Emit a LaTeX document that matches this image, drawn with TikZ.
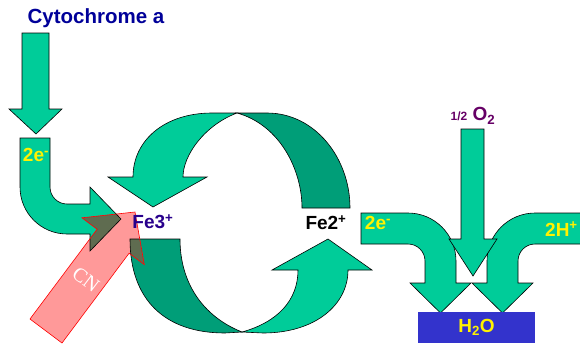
\documentclass[tikz,border=0pt]{standalone}
\usepackage{fontspec}
\setmainfont{Liberation Serif}
\setsansfont{Liberation Sans}
\usepackage{tikz}

\definecolor{cyto}{RGB}{0,204,153}
\definecolor{cytodark}{RGB}{0,158,120}
\definecolor{cnpink}{RGB}{255,153,153}
\definecolor{cnover}{RGB}{95,108,80}
\definecolor{titleblue}{RGB}{0,0,153}
\definecolor{fepurple}{RGB}{40,0,140}
\definecolor{oxpurple}{RGB}{102,0,102}
\definecolor{waterblue}{RGB}{51,51,204}

% outlines that are used twice (once plain, once for the CN overlap)
\newcommand{\leftbend}{(20,138) -- (50,138) -- (50,187) .. controls (50,196.4) and (57.6,204) .. (67,204)
  -- (90,204) -- (90,187) -- (121,219) -- (90,251) -- (90,234) -- (67,234)
  .. controls (41,234) and (20,213) .. (20,187) -- cycle}
\newcommand{\lowback}{(130,239) -- (180,239) .. controls (180,282) and (202,316) .. (242,332)
  -- (225,333) .. controls (165,333) and (130,300) .. (130,239) -- cycle}
\newcommand{\cnarrow}{(30,319) -- (97.1,229.2) -- (81.9,217.8) -- (135,212)
  -- (144.3,264.6) -- (129.1,253.2) -- (62,343) -- cycle}

\tikzset{
  blockarrow/.style={fill=cyto, draw=black, line width=0.6pt},
  backarrow/.style={fill=cytodark, draw=black, line width=0.6pt},
  lbl/.style={font=\sffamily\bfseries\fontsize{19}{22}\selectfont, inner sep=0pt},
}

\begin{document}
\begin{tikzpicture}[x=1pt, y=-1pt]
\useasboundingbox (0,0) rectangle (580,343);

% electrons coming in from cytochrome a
\node[lbl, text=titleblue, font=\sffamily\bfseries\fontsize{20.5}{24}\selectfont] (cyta) at (96,18) {Cytochrome a};
\path[blockarrow] (22,33) -- (49,33) -- (49,109) -- (62,109) -- (36,134) -- (9,109) -- (22,109) -- cycle;
\path[blockarrow] \leftbend;

% the Fe3+/Fe2+ cycle
\path[backarrow] (237,113) -- (267,113) .. controls (315,113) and (350,158) .. (350,208)
  -- (302,208) .. controls (302,170) and (280,125) .. (237,113) -- cycle;
\path[blockarrow] (108,177) -- (153,207) -- (207,177) -- (183,177)
  .. controls (183,155) and (205,125) .. (237,113) -- (212,113)
  .. controls (165,113) and (133,140) .. (133,177) -- cycle;
\path[backarrow] \lowback;
\path[blockarrow] (242,332) -- (263,333) .. controls (315,333) and (348,305) .. (348,270)
  -- (372,270) -- (328,239) -- (272,270) -- (298,270)
  .. controls (298,300) and (278,322) .. (242,332) -- cycle;

% water formation
\path[blockarrow] (361,213) -- (408,213) .. controls (434.5,213) and (456,234.5) .. (456,261)
  -- (456,283) -- (471,283) -- (440.5,313) -- (410,283) -- (425,283) -- (425,261)
  .. controls (425,251.6) and (417.4,244) .. (408,244) -- (361,244) -- cycle;
\path[blockarrow] (600,213) -- (535,213) .. controls (508.5,213) and (487,234.5) .. (487,261)
  -- (487,283) -- (472,283) -- (502.5,313) -- (533,283) -- (518,283) -- (518,261)
  .. controls (518,251.6) and (525.6,244) .. (535,244) -- (600,244) -- cycle;
\path[blockarrow] (461,129) -- (484,129) -- (484,239) -- (497,239) -- (473,276) -- (449,239) -- (461,239) -- cycle;
\node[fill=waterblue, minimum width=117pt, minimum height=31pt, inner sep=0pt] (water) at (476.5,327.5) {};

% cyanide blocking
\fill[cnpink] \cnarrow;
\begin{scope}
  \clip \cnarrow;
  \path[fill=cnover, draw=black, line width=0.6pt] \leftbend;
  \path[fill=cnover, draw=black, line width=0.6pt] \lowback;
\end{scope}
\draw[red, line width=0.6pt] \cnarrow;
\node[text=white, font=\rmfamily\fontsize{20}{24}\selectfont, rotate=-37, inner sep=0pt] (cn) at (86,280) {CN};

% labels
\node[lbl, text=yellow] (eleft) at (36,155) {2e\textsuperscript{-}};
\node[lbl, text=fepurple] (fe3) at (153,222) {Fe3\textsuperscript{+}};
\node[lbl, text=black] (fe2) at (326,223) {Fe2\textsuperscript{+}};
\node[lbl, text=yellow] (eright) at (378,223) {2e\textsuperscript{-}};
\node[lbl, text=yellow, anchor=west] (protons) at (545,229) {2H\textsuperscript{+}};
\node[lbl, text=oxpurple] (oxygen) at (473,116) {{\fontsize{12}{14}\selectfont 1/2} O\textsubscript{2}};
\node[lbl, text=yellow] (h2o) at (water) {H\textsubscript{2}O};
\end{tikzpicture}
\end{document}
